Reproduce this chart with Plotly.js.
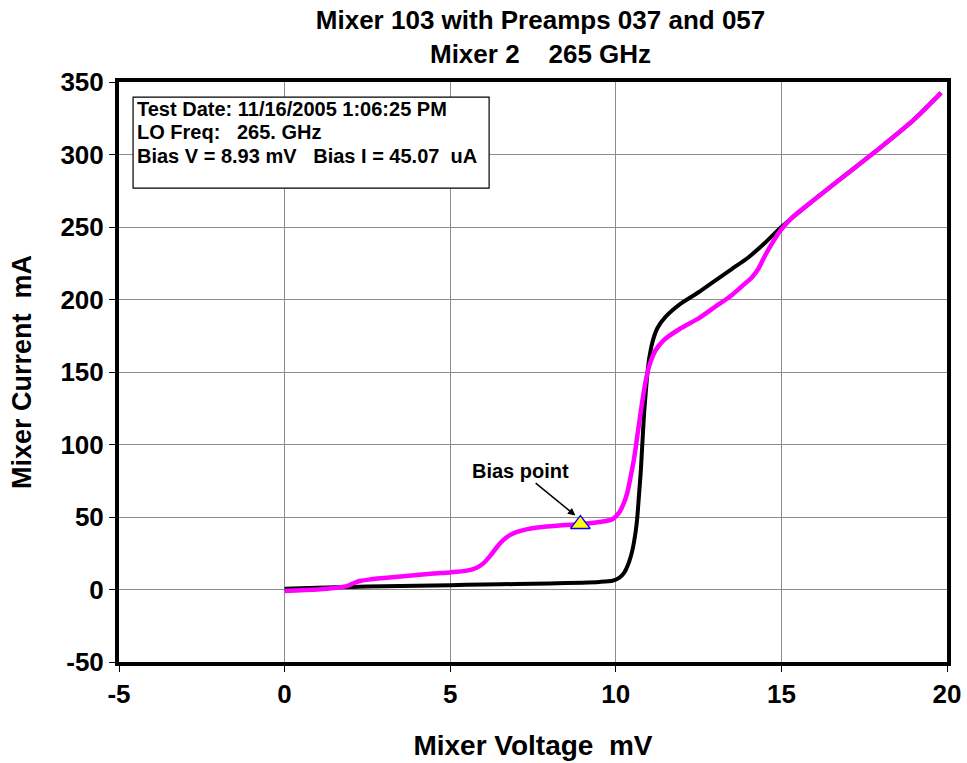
<!DOCTYPE html>
<html>
<head>
<meta charset="utf-8">
<script src="https://cdn.plot.ly/plotly-3.0.1.min.js"></script>
<style>html,body{margin:0;padding:0;background:#fff;}#chart{width:967px;height:763px;}</style>
</head>
<body>
<div id="chart"></div>
<script>
// Unpumped IV curve (black)
const unpumpedV = [0, 1, 2, 3, 4, 5, 6, 7, 8, 9, 9.5, 9.9, 10.1, 10.25, 10.4, 10.5, 10.6, 10.65, 10.7, 10.75, 10.8, 10.85, 10.9, 10.95, 11.0, 11.1, 11.25, 11.5, 11.95, 12.5, 13, 13.5, 14, 14.5, 15, 16, 17, 18, 19, 19.82];
const unpumpedI = [0.5, 1.2, 1.8, 2.2, 2.6, 3.0, 3.4, 3.8, 4.2, 4.7, 5.2, 6, 8, 11.5, 19, 27, 40, 50, 65, 80, 100, 120, 135, 148, 158, 170, 180, 188, 197, 205, 213, 221, 229, 239, 250, 269, 287, 305, 324, 342.5];
// Pumped IV curve (magenta)
const pumpedV = [0, 0.5, 1, 1.5, 1.9, 2.1, 2.3, 2.6, 3, 3.5, 4, 4.5, 5, 5.5, 5.8, 6.0, 6.2, 6.4, 6.6, 6.8, 7.0, 7.3, 7.7, 8.2, 8.93, 9.5, 9.9, 10.1, 10.25, 10.35, 10.45, 10.55, 10.65, 10.75, 10.85, 10.95, 11.05, 11.2, 11.45, 11.95, 12.5, 13, 13.5, 13.8, 14.1, 14.3, 14.5, 14.7, 14.95, 15.3, 16, 17, 18, 19, 19.82];
const pumpedI = [-1, -0.5, 0, 1, 2.5, 4.5, 6, 7, 8, 9, 10, 11, 11.8, 13, 15, 18, 23, 29, 34, 37.5, 39.5, 41.5, 43, 44, 45.07, 46.5, 48.5, 53, 60, 67, 78, 90, 106, 122, 137, 149, 157, 165, 172, 180, 187, 195, 203, 209, 215, 221, 230, 238, 247, 256, 269, 287, 305, 324, 342.5];
// Bias point
const biasV = [8.93];
const biasI = [45.07];
const xTicks = [-5, 0, 5, 10, 15, 20];
const yTicks = [-50, 0, 50, 100, 150, 200, 250, 300, 350];
const infoLines = ["Test Date: 11/16/2005 1:06:25 PM", "LO Freq:   265. GHz", "Bias V = 8.93 mV   Bias I = 45.07  uA"];

const F = "Liberation Sans, Arial, sans-serif";
const nb = s => s.replace(/ /g, '&nbsp;');

const traces = [
  {x: unpumpedV, y: unpumpedI, mode: 'lines', line: {color: '#000000', width: 4, shape: 'spline', smoothing: 0.6}, showlegend: false, hoverinfo: 'skip'},
  {x: pumpedV, y: pumpedI, mode: 'lines', line: {color: '#FF00FF', width: 4.5, shape: 'spline', smoothing: 0.6}, showlegend: false, hoverinfo: 'skip'},
  {x: biasV, y: biasI, mode: 'markers', marker: {symbol: 'triangle-up', size: 17, color: '#FFFF00', line: {color: '#0000FF', width: 1.5}}, showlegend: false}
];

const lineY = [0.9534, 0.9138, 0.8724];
const annotations = infoLines.map((t, i) => ({
  xref: 'paper', yref: 'paper', x: 0.019, y: lineY[i],
  xanchor: 'left', yanchor: 'middle', text: '<b>' + nb(t) + '</b>', showarrow: false,
  font: {family: F, size: 20, color: '#000'}
}));
annotations.push({
  x: 8.78, y: 51, xref: 'x', yref: 'y', text: '<b>Bias point</b>', showarrow: true,
  ax: -55, ay: -45, arrowhead: 2, arrowsize: 1, arrowwidth: 1.5, arrowcolor: '#000',
  font: {family: F, size: 20, color: '#000'}
});

const layout = {
  width: 967, height: 763,
  margin: {l: 119, r: 20, t: 82, b: 101},
  paper_bgcolor: '#fff', plot_bgcolor: '#fff',
  title: {text: '<b>Mixer 103 with Preamps 037 and 057<br>' + nb('Mixer 2    265 GHz') + '</b>', font: {family: F, size: 26, color: '#000'}, x: 0.559, xanchor: 'center', yref: 'container', y: 0.962, yanchor: 'middle'},
  xaxis: {
    range: [-5, 20], tickvals: xTicks, ticktext: xTicks.map(String),
    showgrid: true, gridcolor: '#8c8c8c', gridwidth: 1, zeroline: false,
    showline: true, linecolor: '#000', linewidth: 4, mirror: true,
    ticks: 'outside', ticklen: 6, tickcolor: '#000', tickwidth: 1,
    tickfont: {family: F, size: 26, color: '#000', weight: 'bold'},
    title: {text: '<b>' + nb('Mixer Voltage  mV') + '</b>', font: {family: F, size: 28, color: '#000'}, standoff: 28}
  },
  yaxis: {
    range: [-50, 350], tickvals: yTicks, ticktext: yTicks.map(String),
    showgrid: true, gridcolor: '#8c8c8c', gridwidth: 1, zeroline: false,
    showline: true, linecolor: '#000', linewidth: 4, mirror: true,
    ticks: 'outside', ticklen: 6, tickcolor: '#000', tickwidth: 1,
    tickfont: {family: F, size: 26, color: '#000', weight: 'bold'},
    title: {text: '<b>' + nb('Mixer Current  mA') + '</b>', font: {family: F, size: 27, color: '#000'}, standoff: 22}
  },
  shapes: [{type: 'rect', xref: 'paper', yref: 'paper', x0: 0.017, x1: 0.447, y0: 0.817, y1: 0.974, line: {color: '#000', width: 1.2}, fillcolor: 'rgba(255,255,255,1)', layer: 'above'}],
  annotations: annotations
};

Plotly.newPlot('chart', traces, layout, {displayModeBar: false, staticPlot: true});
</script>
</body>
</html>
